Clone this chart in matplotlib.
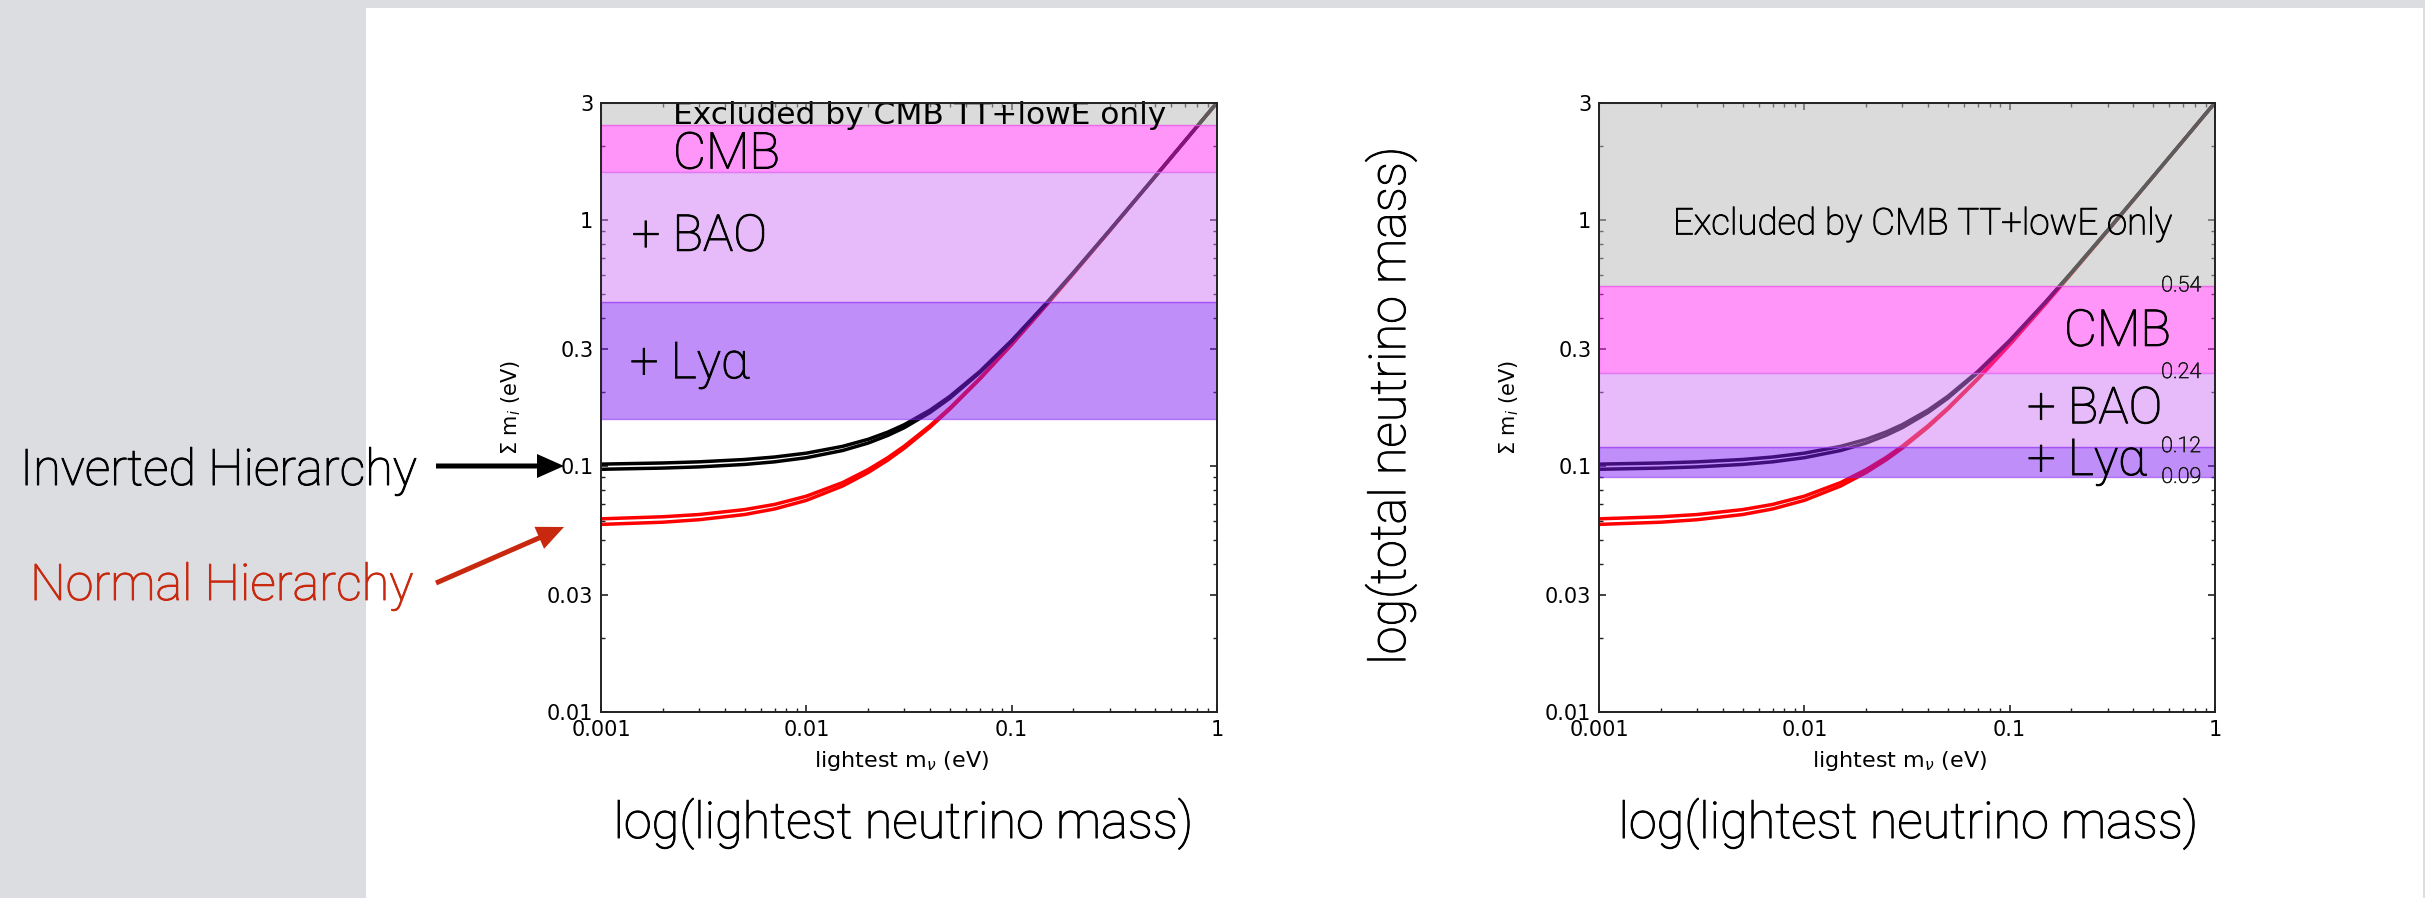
import matplotlib
matplotlib.use("Agg")
import matplotlib.pyplot as plt
import matplotlib.patheffects as pe
from matplotlib.patches import Rectangle, FancyArrow
from matplotlib.ticker import FixedLocator, FixedFormatter, LogLocator, NullFormatter
from matplotlib.transforms import blended_transform_factory

W, H, DPI = 2425, 898, 100

# Lightest neutrino mass (eV) and total mass sum (eV) along each hierarchy band edge
m_lightest = [0.001, 0.002, 0.003, 0.005, 0.007, 0.01, 0.015, 0.02, 0.025, 0.03,
              0.04, 0.05, 0.07, 0.1, 0.15, 0.2, 0.3, 0.5, 0.7, 1.0]
normal_low = [0.0579, 0.0591, 0.0605, 0.0635, 0.0669, 0.0725, 0.0829, 0.0941, 0.1059, 0.1182,
              0.1437, 0.1703, 0.2257, 0.3115, 0.4579, 0.6060, 0.9040, 1.5024, 2.1017, 3.0012]
normal_high = [0.0610, 0.0622, 0.0635, 0.0665, 0.0698, 0.0754, 0.0856, 0.0967, 0.1083, 0.1205,
               0.1458, 0.1722, 0.2272, 0.3127, 0.4587, 0.6066, 0.9044, 1.5027, 2.1019, 3.0013]
inverted_low = [0.0970, 0.0981, 0.0992, 0.1015, 0.1040, 0.1081, 0.1156, 0.1240, 0.1333, 0.1432,
                0.1650, 0.1886, 0.2398, 0.3219, 0.4650, 0.6114, 0.9076, 1.5046, 2.1033, 3.0023]
inverted_high = [0.1018, 0.1029, 0.1040, 0.1063, 0.1088, 0.1128, 0.1202, 0.1284, 0.1375, 0.1473,
                 0.1687, 0.1920, 0.2425, 0.3240, 0.4665, 0.6125, 0.9084, 1.5051, 2.1036, 3.0025]

# Upper limits on the sum of masses (eV): excluded / CMB / +BAO / +Lya
limits_2013 = [2.435, 1.57, 0.464, 0.155]
limits_2018 = [0.54, 0.24, 0.12, 0.09]
limit_labels_2018 = ["0.54", "0.24", "0.12", "0.09"]

y_ticks = [0.01, 0.03, 0.1, 0.3, 1, 3]
y_ticklabels = ["0.01", "0.03", "0.1", "0.3", "1", "3"]
x_ticks = [0.001, 0.01, 0.1, 1]
x_ticklabels = ["0.001", "0.01", "0.1", "1"]

band_colors = ["#b9b9b9", "#ff2df5", "#d179f5", "#831ff5"]
SLIDE_GRAY = "#dcdde0"
RED_TXT = "#c8290e"
BIG = 36.3
BAND_FS = 36.5

plt.rcParams["mathtext.fontset"] = "dejavusans"


def light(color="black", stroke=0.7):
    """Thin sans style with a faint outline to give the strokes a little body."""
    return dict(family=["Roboto", "DejaVu Sans"], weight="light", color=color,
                path_effects=[pe.withStroke(linewidth=stroke, foreground=color)])


fig = plt.figure(figsize=(W / DPI, H / DPI), dpi=DPI, facecolor="white")

# Slide canvas in pixel units
bg = fig.add_axes([0, 0, 1, 1], zorder=-5)
bg.set_xlim(0, W)
bg.set_ylim(H, 0)
bg.axis("off")
bg.add_patch(Rectangle((0, 0), 366, H, color=SLIDE_GRAY, lw=0))
bg.add_patch(Rectangle((0, 0), W, 8, color=SLIDE_GRAY, lw=0))
bg.add_patch(Rectangle((2423, 8), 2, H, color=SLIDE_GRAY, lw=0))

bg.text(20, 485, "Inverted Hierarchy", fontsize=BIG, ha="left", va="baseline", **light())
bg.text(30, 600, "Normal Hierarchy", fontsize=BIG, ha="left", va="baseline",
        **light(RED_TXT))
bg.add_patch(FancyArrow(436, 466, 128, 0, width=5, head_width=24, head_length=27,
                        length_includes_head=True, color="black", lw=0))
bg.add_patch(FancyArrow(436, 583, 128, -56, width=5, head_width=24, head_length=27,
                        length_includes_head=True, color=RED_TXT, lw=0))

bg.text(903, 838, "log(lightest neutrino mass)", fontsize=BIG, ha="center",
        va="baseline", **light())
bg.text(1908, 838, "log(lightest neutrino mass)", fontsize=BIG, ha="center",
        va="baseline", **light())
bg.text(1391, 406, "log(total neutrino mass)", fontsize=BIG, ha="center",
        va="center", rotation=90, **light())


def mass_panel(left_px, limits):
    ax = fig.add_axes([left_px / W, 1 - 712 / H, 616 / W, 609.3 / H])
    ax.set_xscale("log")
    ax.set_yscale("log")
    ax.set_xlim(0.001, 1)
    ax.set_ylim(0.01, 3)

    for lo, hi, col, z in [(normal_low, normal_high, "red", 1),
                           (inverted_low, inverted_high, "black", 2)]:
        ax.plot(m_lightest, lo, color=col, lw=2.5, zorder=z, solid_capstyle="butt")
        ax.plot(m_lightest, hi, color=col, lw=2.5, zorder=z, solid_capstyle="butt")

    tops = [3] + limits[:-1]
    for top, bottom, col in zip(tops, limits, band_colors):
        ax.axhspan(bottom, top, color=col, alpha=0.5, lw=1, zorder=3)

    ax.yaxis.set_major_locator(FixedLocator(y_ticks))
    ax.yaxis.set_major_formatter(FixedFormatter(y_ticklabels))
    ax.xaxis.set_major_locator(FixedLocator(x_ticks))
    ax.xaxis.set_major_formatter(FixedFormatter(x_ticklabels))
    for axis in (ax.xaxis, ax.yaxis):
        axis.set_minor_locator(LogLocator(base=10, subs=range(2, 10), numticks=20))
        axis.set_minor_formatter(NullFormatter())
    ax.tick_params(which="both", direction="in", top=True, right=True,
                   color="#222222", labelsize=15)
    ax.tick_params(which="major", length=5, width=1.2)
    ax.tick_params(which="minor", length=3, width=1.0)
    ax.tick_params(axis="x", pad=6)
    ax.tick_params(axis="y", pad=5.5)
    for sp in ax.spines.values():
        sp.set_color("#222222")
        sp.set_linewidth(1.4)
        sp.set_zorder(6)

    ax.text(-0.145, 0.5, r"$\Sigma$ m$_i$ (eV)", transform=ax.transAxes,
            rotation=90, ha="center", va="center", fontsize=15)
    ax.text(0.488, -0.08, r"lightest m$_\nu$ (eV)", transform=ax.transAxes,
            ha="center", va="center", fontsize=16)
    return ax


ax1 = mass_panel(601, limits_2013)
ax1.text(0.117, 0.965, "Excluded by CMB TT+lowE only", transform=ax1.transAxes,
         fontsize=22.5, ha="left", va="baseline", zorder=5)
ax1.text(0.117, 0.892, "CMB", transform=ax1.transAxes, fontsize=BAND_FS,
         ha="left", va="baseline", zorder=5, **light())
ax1.text(0.050, 0.757, "+ BAO", transform=ax1.transAxes, fontsize=BAND_FS,
         ha="left", va="baseline", zorder=5, **light())
ax1.text(0.047, 0.548, "+ Ly\u03b1", transform=ax1.transAxes, fontsize=BAND_FS,
         ha="left", va="baseline", zorder=5, **light())

ax2 = mass_panel(1599, limits_2018)
ax2.text(0.120, 0.784, "Excluded by CMB TT+lowE only", transform=ax2.transAxes,
         fontsize=26.4, ha="left", va="baseline", zorder=5, **light())
ax2.text(0.929, 0.601, "CMB", transform=ax2.transAxes, fontsize=BAND_FS,
         ha="right", va="baseline", zorder=5, **light())
ax2.text(0.695, 0.474, "+ BAO", transform=ax2.transAxes, fontsize=BAND_FS,
         ha="left", va="baseline", zorder=5, **light())
ax2.text(0.695, 0.389, "+ Ly\u03b1", transform=ax2.transAxes, fontsize=BAND_FS,
         ha="left", va="baseline", zorder=5, **light())
lim_tr = blended_transform_factory(ax2.transAxes, ax2.transData)
for val, lab in zip(limits_2018, limit_labels_2018):
    ax2.text(0.977, val, lab, transform=lim_tr, fontsize=15.5, ha="right",
             va="center", zorder=5, **light("#1a1a1a", 0.5))

fig.savefig("out.png", dpi=DPI, facecolor="white")
